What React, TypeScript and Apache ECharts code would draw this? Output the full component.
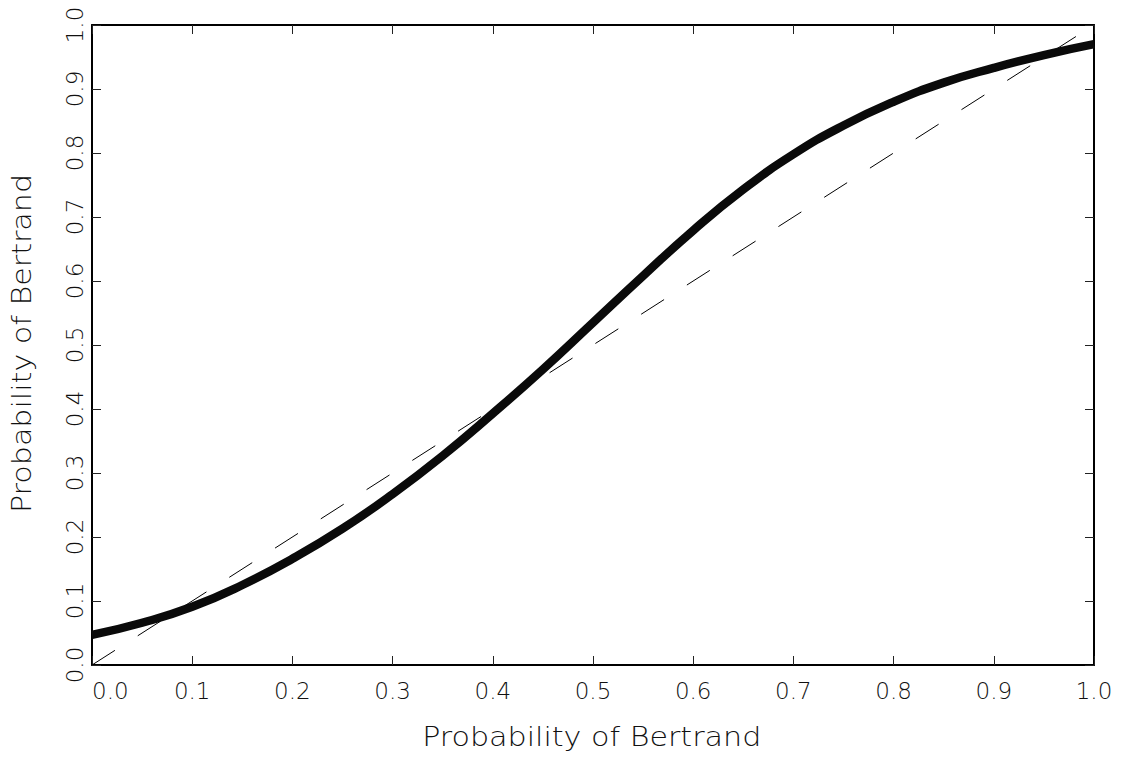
import React, { useEffect, useRef } from "react";
import * as echarts from "echarts";

const xValues = [0, 0.05, 0.1, 0.15, 0.2, 0.25, 0.3, 0.35, 0.4, 0.45, 0.5, 0.55, 0.6, 0.65, 0.7, 0.75, 0.8, 0.85, 0.9, 0.95, 1.0];
const curveValues = [0.047, 0.066, 0.091, 0.125, 0.166, 0.213, 0.267, 0.327, 0.393, 0.462, 0.535, 0.608, 0.679, 0.743, 0.798, 0.843, 0.88, 0.91, 0.933, 0.953, 0.97];
const diagonalX = [0, 1];
const diagonalY = [0, 1];
const xTitle = "Probability of Bertrand";
const yTitle = "Probability of Bertrand";

const FONT = "DejaVu Sans";

export default function App() {
  const ref = useRef<HTMLDivElement>(null);
  useEffect(() => {
    if (!ref.current) return;
    const chart = echarts.init(ref.current, null, { renderer: "svg" });
    const labelStyle = { fontFamily: FONT, fontSize: 23, fontWeight: 200, color: "#111" };
    const baseAxis = {
      type: "value" as const,
      min: 0,
      max: 1,
      interval: 0.1,
      splitLine: { show: false },
      axisLine: { show: true, onZero: false, lineStyle: { color: "#000", width: 2 } },
      axisTick: { show: true, inside: true, length: 9, lineStyle: { color: "#222", width: 1 } },
    };
    chart.setOption({
      animation: false,
      backgroundColor: "#fff",
      grid: { left: 92, right: 28, top: 25, bottom: 93, containLabel: false },
      xAxis: [
        {
          ...baseAxis,
          position: "bottom",
          axisLabel: {
            ...labelStyle,
            margin: 14,
            alignMinLabel: "left",
            formatter: (v: number) => v.toFixed(1),
          },
        },
        { ...baseAxis, position: "top", axisLabel: { show: false } },
      ],
      yAxis: [
        {
          ...baseAxis,
          position: "left",
          axisLabel: {
            ...labelStyle,
            rotate: 90,
            margin: 6,
            formatter: (v: number) => v.toFixed(1),
          },
        },
        { ...baseAxis, position: "right", axisLabel: { show: false } },
      ],
      graphic: [
        {
          type: "text",
          x: 591.7,
          y: 737,
          scaleX: 1.16,
          silent: true,
          style: { text: xTitle, fontFamily: FONT, fontSize: 26, fontWeight: 200, fill: "#111", align: "center", verticalAlign: "middle" },
        },
        {
          type: "text",
          x: 22.5,
          y: 343.5,
          rotation: Math.PI / 2,
          scaleX: 1.16,
          silent: true,
          style: { text: yTitle, fontFamily: FONT, fontSize: 26, fontWeight: 200, fill: "#111", align: "center", verticalAlign: "middle" },
        },
      ],
      series: [
        {
          type: "line",
          data: diagonalX.map((x, i) => [x, diagonalY[i]]),
          symbol: "none",
          lineStyle: { color: "#000", width: 1, type: [27.2, 27.1] },
          z: 2,
        },
        {
          type: "line",
          data: xValues.map((x, i) => [x, curveValues[i]]),
          symbol: "none",
          smooth: 0.5,
          lineStyle: { color: "#0a0a0a", width: 8.5 },
          z: 3,
        },
      ],
    });
    return () => chart.dispose();
  }, []);
  return <div ref={ref} style={{ position: "fixed", left: 0, top: 0, width: 1122, height: 758 }} />;
}
